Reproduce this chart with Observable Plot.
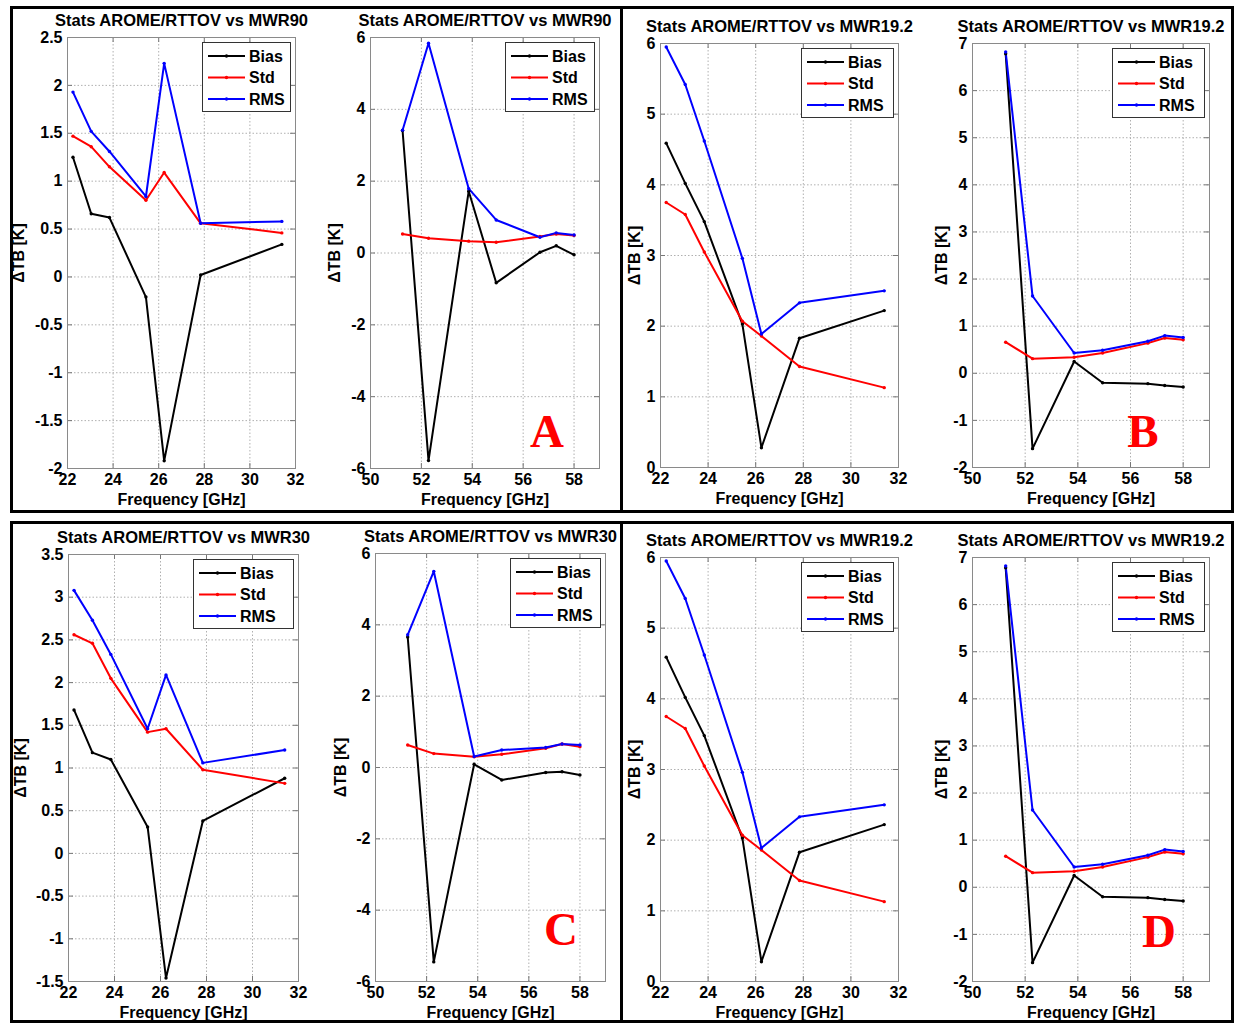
<!DOCTYPE html>
<html><head><meta charset="utf-8">
<script src="https://cdn.jsdelivr.net/npm/d3@7"></script>
<script src="https://cdn.jsdelivr.net/npm/@observablehq/plot@0.6"></script>
<style>
body{margin:0;background:#fff;}
#page{position:relative;width:1235px;height:1023px;overflow:hidden;background:#fff;font-family:"Liberation Sans",Arial,sans-serif;}
.sub{position:absolute;}
#overlay{position:absolute;left:0;top:0;pointer-events:none;}
</style></head><body>
<div id="page"></div>
<script>
// ---------- data ----------
const seriesNames = ["Bias", "Std", "RMS"];
const seriesColors = ["#000000", "#ff0000", "#0000ff"];
const freqK = [22.24, 23.04, 23.84, 25.44, 26.24, 27.84, 31.40];
const freqV = [51.26, 52.28, 53.86, 54.94, 56.66, 57.30, 58.00];
const xTicksK = [22, 24, 26, 28, 30, 32];
const xTicksV = [50, 52, 54, 56, 58];

const titleMWR90 = "Stats AROME/RTTOV vs MWR90";
const titleMWR19 = "Stats AROME/RTTOV vs MWR19.2";
const titleMWR30 = "Stats AROME/RTTOV vs MWR30";

// Panel A (MWR90)
const biasA_K = [1.25, 0.66, 0.62, -0.21, -1.92, 0.02, 0.34];
const stdA_K  = [1.47, 1.36, 1.15, 0.80, 1.09, 0.56, 0.46];
const rmsA_K  = [1.93, 1.52, 1.31, 0.84, 2.23, 0.56, 0.58];
const biasA_V = [3.41, -5.78, 1.72, -0.83, 0.02, 0.20, -0.05];
const stdA_V  = [0.53, 0.41, 0.33, 0.30, 0.46, 0.53, 0.49];
const rmsA_V  = [3.42, 5.84, 1.79, 0.92, 0.44, 0.56, 0.50];
const yTicksA_K = [-2, -1.5, -1, -0.5, 0, 0.5, 1, 1.5, 2, 2.5];
const yTicksA_V = [-6, -4, -2, 0, 2, 4, 6];

// Panel B (MWR19.2)
const biasB_K = [4.59, 4.02, 3.48, 2.03, 0.28, 1.83, 2.22];
const stdB_K  = [3.75, 3.58, 3.05, 2.07, 1.86, 1.43, 1.13];
const rmsB_K  = [5.95, 5.42, 4.62, 2.96, 1.89, 2.33, 2.50];
const biasB_V = [6.78, -1.60, 0.25, -0.20, -0.22, -0.26, -0.29];
const stdB_V  = [0.66, 0.31, 0.34, 0.43, 0.64, 0.75, 0.71];
const rmsB_V  = [6.82, 1.64, 0.43, 0.49, 0.68, 0.80, 0.76];
const yTicksB_K = [0, 1, 2, 3, 4, 5, 6];
const yTicksB_V = [-2, -1, 0, 1, 2, 3, 4, 5, 6, 7];

// Panel C (MWR30)
const biasC_K = [1.68, 1.18, 1.10, 0.31, -1.46, 0.38, 0.88];
const stdC_K  = [2.56, 2.46, 2.05, 1.42, 1.46, 0.98, 0.82];
const rmsC_K  = [3.08, 2.73, 2.33, 1.46, 2.09, 1.06, 1.21];
const biasC_V = [3.66, -5.45, 0.09, -0.35, -0.14, -0.12, -0.21];
const stdC_V  = [0.63, 0.39, 0.30, 0.37, 0.54, 0.66, 0.58];
const rmsC_V  = [3.72, 5.50, 0.31, 0.49, 0.56, 0.66, 0.63];
const yTicksC_K = [-1.5, -1, -0.5, 0, 0.5, 1, 1.5, 2, 2.5, 3, 3.5];
const yTicksC_V = [-6, -4, -2, 0, 2, 4, 6];

// Panel D (MWR19.2)
const biasD_K = [4.59, 4.02, 3.48, 2.03, 0.28, 1.83, 2.22];
const stdD_K  = [3.75, 3.58, 3.05, 2.07, 1.86, 1.43, 1.13];
const rmsD_K  = [5.95, 5.42, 4.62, 2.96, 1.89, 2.33, 2.50];
const biasD_V = [6.78, -1.60, 0.25, -0.20, -0.22, -0.26, -0.29];
const stdD_V  = [0.66, 0.31, 0.34, 0.43, 0.64, 0.75, 0.71];
const rmsD_V  = [6.82, 1.64, 0.43, 0.49, 0.68, 0.80, 0.76];
const yTicksD_K = [0, 1, 2, 3, 4, 5, 6];
const yTicksD_V = [-2, -1, 0, 1, 2, 3, 4, 5, 6, 7];

const panelLetters = ["A", "B", "C", "D"];

// ---------- layout ----------
const FONT = "'Liberation Sans', Arial, Helvetica, sans-serif";
const subplots = [
  {title: titleMWR90, freq: freqK, s: [biasA_K, stdA_K, rmsA_K], xd: [22, 32], xt: xTicksK, yt: yTicksA_K, box: [67, 37, 295, 468], ylx: 20, lw: 88},
  {title: titleMWR90, freq: freqV, s: [biasA_V, stdA_V, rmsA_V], xd: [50, 59], xt: xTicksV, yt: yTicksA_V, box: [370, 37, 599, 468], ylx: 336, lw: 89},
  {title: titleMWR19, freq: freqK, s: [biasB_K, stdB_K, rmsB_K], xd: [22, 32], xt: xTicksK, yt: yTicksB_K, box: [660, 43, 898, 467], ylx: 636, lw: 92},
  {title: titleMWR19, freq: freqV, s: [biasB_V, stdB_V, rmsB_V], xd: [50, 59], xt: xTicksV, yt: yTicksB_V, box: [972, 43, 1209, 467], ylx: 943, lw: 92},
  {title: titleMWR30, freq: freqK, s: [biasC_K, stdC_K, rmsC_K], xd: [22, 32], xt: xTicksK, yt: yTicksC_K, box: [68, 554, 298, 981], ylx: 22, lw: 100},
  {title: titleMWR30, freq: freqV, s: [biasC_V, stdC_V, rmsC_V], xd: [50, 59], xt: xTicksV, yt: yTicksC_V, box: [375, 553, 605, 981], ylx: 342, lw: 90},
  {title: titleMWR19, freq: freqK, s: [biasD_K, stdD_K, rmsD_K], xd: [22, 32], xt: xTicksK, yt: yTicksD_K, box: [660, 557, 898, 981], ylx: 636, lw: 92},
  {title: titleMWR19, freq: freqV, s: [biasD_V, stdD_V, rmsD_V], xd: [50, 59], xt: xTicksV, yt: yTicksD_V, box: [972, 557, 1209, 981], ylx: 943, lw: 92}
];
const letterPos = [[547, 447], [1143, 447], [561, 945], [1159, 947]];
const frames = [[10, 6, 613, 507], [620, 6, 614, 507], [10, 521, 613, 502], [620, 521, 614, 502]];

const page = document.getElementById("page");
const mL = 62, mT = 32, mR = 14, mB = 46;
const fmt = d => String(d);

for (const sp of subplots) {
  const [x0, y0, x1, y1] = sp.box;
  const pw = x1 - x0, ph = y1 - y0;
  const rows = [];
  seriesNames.forEach((name, i) => sp.s[i].forEach((v, j) => rows.push({f: sp.freq[j], v, s: name})));
  const yd = [sp.yt[0], sp.yt[sp.yt.length - 1]];
  const chart = Plot.plot({
    width: pw + mL + mR, height: ph + mT + mB,
    marginLeft: mL, marginTop: mT, marginRight: mR, marginBottom: mB,
    style: {fontFamily: FONT, fontSize: "16px", fontWeight: "bold", color: "#000", background: "transparent", overflow: "visible"},
    x: {domain: sp.xd, ticks: sp.xt, tickFormat: fmt, tickSize: 0, tickPadding: 5, label: "Frequency [GHz]", labelAnchor: "center", labelArrow: "none", labelOffset: 36},
    y: {domain: yd, ticks: sp.yt, tickFormat: fmt, tickSize: 0, tickPadding: 5, label: "ΔTB [K]", labelAnchor: "center", labelArrow: "none", labelOffset: x0 - sp.ylx + 8},
    color: {domain: seriesNames, range: seriesColors},
    marks: [
      Plot.gridX(sp.xt, {stroke: "#b0b0b0", strokeOpacity: 1, strokeDasharray: "1.5,2"}),
      Plot.gridY(sp.yt, {stroke: "#b0b0b0", strokeOpacity: 1, strokeDasharray: "1.5,2"}),
      Plot.ruleX(sp.xt, {x: d => d, insetTop: ph - 5, stroke: "#777"}),
      Plot.ruleX(sp.xt, {x: d => d, insetBottom: ph - 5, stroke: "#777"}),
      Plot.ruleY(sp.yt, {y: d => d, insetRight: pw - 5, stroke: "#777"}),
      Plot.ruleY(sp.yt, {y: d => d, insetLeft: pw - 5, stroke: "#777"}),
      Plot.frame({stroke: "#8a8a8a"}),
      Plot.line(rows, {x: "f", y: "v", z: "s", stroke: "s", strokeWidth: 2}),
      Plot.dot(rows, {x: "f", y: "v", fill: "s", r: 1.7}),
      Plot.text([sp.title], {frameAnchor: "top", dy: -23, fontSize: 16.5, fontWeight: "bold", fill: "#000"})
    ]
  });
  chart.classList.add("sub");
  chart.style.left = (x0 - mL) + "px";
  chart.style.top = (y0 - mT) + "px";
  page.appendChild(chart);
}

// overlay: panel frames, legends, letters
const NS = "http://www.w3.org/2000/svg";
const ov = document.createElementNS(NS, "svg");
ov.setAttribute("id", "overlay");
ov.setAttribute("width", 1235);
ov.setAttribute("height", 1023);
page.appendChild(ov);
function el(tag, attrs, text) {
  const e = document.createElementNS(NS, tag);
  for (const k in attrs) e.setAttribute(k, attrs[k]);
  if (text != null) e.textContent = text;
  ov.appendChild(e);
  return e;
}
for (const sp of subplots) {
  const [x0, y0, x1] = sp.box;
  const w = sp.lw, h = 69;
  const lx = x1 - 5 - w, ly = y0 + 5;
  el("rect", {x: lx + 0.5, y: ly + 0.5, width: w, height: h, fill: "#fff", stroke: "#333", "stroke-width": 1});
  seriesNames.forEach((name, i) => {
    const ry = ly + 14 + i * 21.5;
    el("line", {x1: lx + 6, x2: lx + 43, y1: ry, y2: ry, stroke: seriesColors[i], "stroke-width": 2});
    el("circle", {cx: lx + 24.5, cy: ry, r: 1.7, fill: seriesColors[i]});
    el("text", {x: lx + 47, y: ry + 5.5, "font-family": FONT, "font-size": 16, "font-weight": "bold", fill: "#000"}, name);
  });
}
panelLetters.forEach((L, i) => {
  el("text", {x: letterPos[i][0], y: letterPos[i][1], "text-anchor": "middle", "font-family": "'Liberation Serif', 'Times New Roman', serif", "font-size": 47, "font-weight": "bold", fill: "#ff0000"}, L);
});
for (const [x, y, w, h] of frames) {
  el("rect", {x: x + 1.5, y: y + 1.5, width: w - 3, height: h - 3, fill: "none", stroke: "#000", "stroke-width": 3});
}
</script>
</body></html>
